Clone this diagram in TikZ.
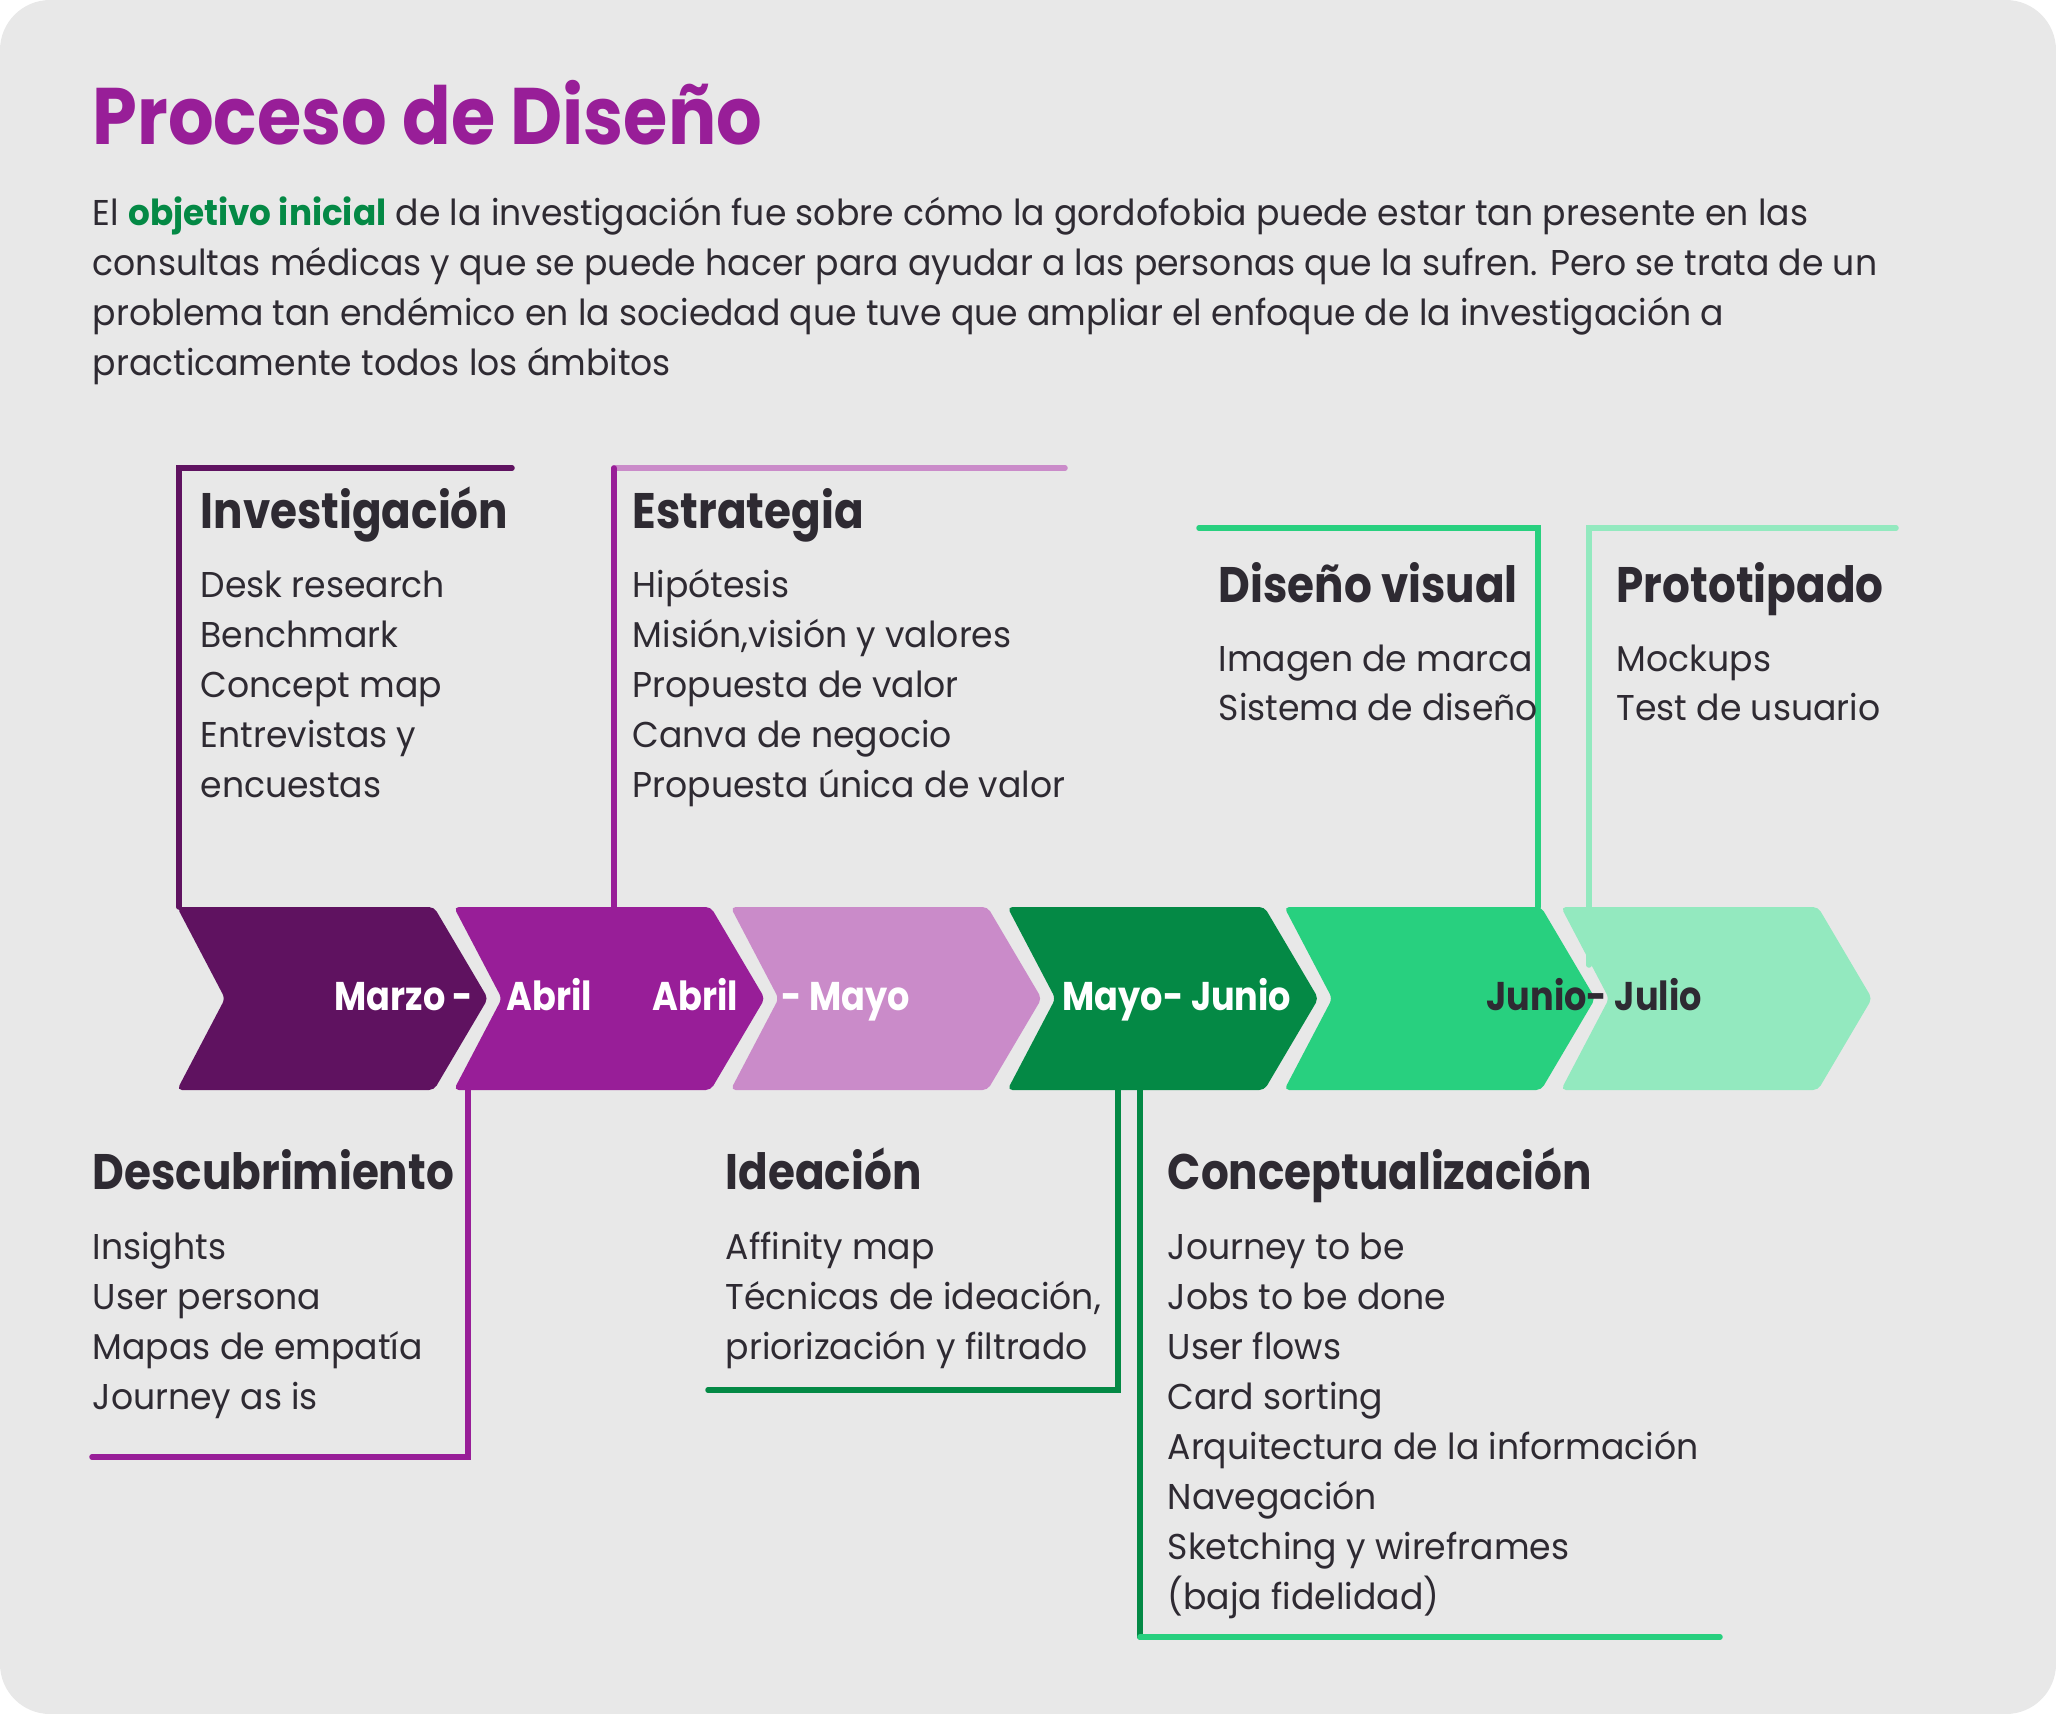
\documentclass[tikz,border=0pt]{standalone}
\usepackage{fontspec}
\setmainfont{Poppins}[UprightFeatures={FakeStretch=0.965}, BoldFeatures={FakeStretch=0.875}]
\newfontfamily\titlefont{Poppins}[BoldFeatures={FakeStretch=0.895}]
\newfontfamily\keyfont{Poppins}[BoldFeatures={FakeStretch=0.955}]
\usetikzlibrary{calc}

\definecolor{bggray}{HTML}{E8E8E8}
\definecolor{ink}{HTML}{2E2A32}
\definecolor{plumdark}{HTML}{5F1260}
\definecolor{plum}{HTML}{981E98}
\definecolor{plumlight}{HTML}{CA8BC9}
\definecolor{leafdark}{HTML}{048945}
\definecolor{leaf}{HTML}{28D07F}
\definecolor{leaflight}{HTML}{93E9BF}

\tikzset{
  head/.style={anchor=base west, inner sep=0, text=ink, font=\fontsize{14.2}{17}\selectfont\bfseries},
  item/.style={anchor=base west, inner sep=0, text=ink, font=\fontsize{10.2}{14.2}\selectfont},
  monthlab/.style={anchor=base west, inner sep=0, text=white, font=\fontsize{11.4}{14}\selectfont\bfseries},
  link/.style={line width=0.055cm, line cap=round}
}

\begin{document}
\begin{tikzpicture}[x=0.01cm, y=-0.01cm]
    % Canvas
    \useasboundingbox (0,0) rectangle (2056,1714);
    \fill[bggray, rounded corners=0.5cm] (0,0) rectangle (2056,1714);

    % Title and intro text
    \node[anchor=base west, inner sep=0, text=plum, font=\titlefont\fontsize{22.8}{26}\selectfont\bfseries] (title) at (92,144) {Proceso de Diseño};
    \node[item] (intro1) at (92,225) {El \textcolor{leafdark}{\keyfont\bfseries objetivo inicial} de la investigación fue sobre cómo la gordofobia puede estar tan presente en las};
    \node[item] (intro2) at (92,275) {consultas médicas y que se puede hacer para ayudar a las personas que la sufren. Pero se trata de un};
    \node[item] (intro3) at (92,325) {problema tan endémico en la sociedad que tuve que ampliar el enfoque de la investigación a};
    \node[item] (intro4) at (92,375) {practicamente todos los ámbitos};

    % Draw the chevrons of the timeline
    \foreach \c [count=\i from 0] in {plumdark,plum,plumlight,leafdark,leaf,leaflight} {
        \pgfmathsetmacro\xl{177+276.8*\i}
        \fill[\c, rounded corners=0.05cm] (\xl,907) -- ({\xl+257},907) -- ({\xl+311},998.5)
            -- ({\xl+257},1090) -- (\xl,1090) -- ({\xl+48},998.5) -- cycle;
    }

    % Connector corners
    \coordinate (invA) at (179,907);  \coordinate (invB) at (179,468);  \coordinate (invC) at (512,468);
    \coordinate (estA) at (614,907);  \coordinate (estB) at (614,468);  \coordinate (estC) at (1065,468);
    \coordinate (visA) at (1538,907); \coordinate (visB) at (1538,528); \coordinate (visC) at (1199,528);
    \coordinate (proA) at (1589,965); \coordinate (proB) at (1589,528); \coordinate (proC) at (1896,528);
    \coordinate (desA) at (468,1090); \coordinate (desB) at (468,1457); \coordinate (desC) at (92,1457);
    \coordinate (ideA) at (1118,1090); \coordinate (ideB) at (1118,1390); \coordinate (ideC) at (708,1390);
    \coordinate (conA) at (1140,1090); \coordinate (conB) at (1140,1637); \coordinate (conC) at (1720,1637);

    % Draw the connectors
    \draw[link, plumdark] (invA) -- (invB) -- (invC);
    \draw[link, plumlight] (estB) -- (estC);
    \draw[link, plum] (estA) -- (estB);
    \draw[link, leaf] (visA) -- (visB) -- (visC);
    \draw[link, leaflight] (proA) -- (proB) -- (proC);
    \draw[link, plum] (desA) -- (desB) -- (desC);
    \draw[link, leafdark] (ideA) -- (ideB) -- (ideC);
    \draw[link, leafdark] (conA) -- (conB);
    \draw[link, leaf] (conB) -- (conC);

    % Month labels
    \node[monthlab] (marzo) at (334,1010) {Marzo -};
    \node[monthlab] (abril) at (506,1010) {Abril};
    \node[monthlab] (abril2) at (652,1010) {Abril};
    \node[monthlab] (mayo) at (781,1010) {- Mayo};
    \node[monthlab] (junio) at (1062,1010) {Mayo- Junio};
    \node[monthlab, text=ink] (julio) at (1486,1010) {Junio- Julio};

    % Stages above the timeline
    \node[head] (inv) at (200,528) {Investigación};
    \foreach \t [count=\i] in {Desk research, Benchmark, Concept map, Entrevistas y, encuestas}
        \node[item] (inv\i) at (200,{547+50*\i}) {\t};

    \node[head] (est) at (632,528) {Estrategia};
    \foreach \t [count=\i] in {Hipótesis, {Misión,visión y valores}, Propuesta de valor, Canva de negocio, Propuesta única de valor}
        \node[item] (est\i) at (632,{547+50*\i}) {\t};

    \node[head] (vis) at (1218,602) {Diseño visual};
    \foreach \t [count=\i] in {Imagen de marca, Sistema de diseño}
        \node[item] (vis\i) at (1218,{622+49*\i}) {\t};

    \node[head] (pro) at (1616,602) {Prototipado};
    \foreach \t [count=\i] in {Mockups, Test de usuario}
        \node[item] (pro\i) at (1616,{622+49*\i}) {\t};

    % Stages below the timeline
    \node[head] (des) at (92,1189) {Descubrimiento};
    \foreach \t [count=\i] in {Insights, User persona, Mapas de empatía, Journey as is}
        \node[item] (des\i) at (92,{1209+50*\i}) {\t};

    \node[head] (ide) at (725,1189) {Ideación};
    \foreach \t [count=\i] in {Affinity map, {Técnicas de ideación,}, priorización y filtrado}
        \node[item] (ide\i) at (725,{1209+50*\i}) {\t};

    \node[head] (con) at (1167,1189) {Conceptualización};
    \foreach \t [count=\i] in {Journey to be, Jobs to be done, User flows, Card sorting, Arquitectura de la información, Navegación, Sketching y wireframes, (baja fidelidad)}
        \node[item] (con\i) at (1167,{1209+50*\i}) {\t};
\end{tikzpicture}
\end{document}
